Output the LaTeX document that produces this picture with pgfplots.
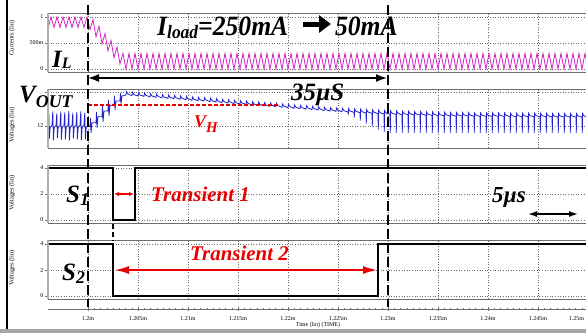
\documentclass[border=0pt]{standalone}
\usepackage{fontspec}
\setmainfont{Liberation Serif}
\usepackage{graphicx}
\usepackage{pgfplots}
\pgfplotsset{compat=1.18}
\usetikzlibrary{arrows.meta}
\definecolor{mag}{RGB}{212,34,196}
\definecolor{vblue}{RGB}{36,36,200}
\definecolor{ared}{RGB}{232,0,0}
\definecolor{gridc}{RGB}{105,105,105}
\definecolor{framec}{RGB}{110,110,110}
\definecolor{edgec}{RGB}{175,175,175}
\newcommand\fs[1]{\fontsize{#1}{#1}\selectfont}
\pgfplotsset{
  panel/.style={
    scale only axis, width=580bp, xmin=-4, xmax=54,
    anchor=south west,
    axis line style={framec, line width=0.7bp},
    xtick={0,5,...,50}, xticklabels={},
    x tick style={draw=none},
    y tick style={framec, line width=0.5bp},
    major tick length=3bp, tick align=outside,
    xmajorgrids, ymajorgrids,
    major grid style={gridc, line width=0.5bp, dash pattern=on 1bp off 1.6bp},
    yticklabel style={font=\fs{6}, inner sep=1.5bp},
    every axis y label/.style={at={(axis description cs:-0.062,0.5)}, rotate=90, anchor=center, font=\fs{6.5}},
    after end axis/.code={\draw[edgec, line width=2bp] (rel axis cs:0,0) -- (rel axis cs:0,1);},
  },
}
\begin{document}
\begin{tikzpicture}
\useasboundingbox (0,0) rectangle (586bp,-333bp);
% ---------- panel 1: inductor current ----------
\begin{axis}[panel, at={(48bp,-72bp)}, height=59bp, ymin=-0.058, ymax=1.077,
  ytick={0,0.5,1}, yticklabels={0,500m,1}, ylabel={Currents (lin)},
  every axis y label/.append style={at={(axis description cs:-0.062,0.576)}}]
\addplot[mag, line width=0.8bp] coordinates {
(-4.0,0.78)(-3.7,1.0)(-3.4,0.8)(-3.1,1.0)(-2.8,0.8)(-2.5,1.0)(-2.2,0.8)(-1.9,1.0)(-1.6,0.8)(-1.3,1.0)(-1.0,0.8)(-0.7,1.0)(-0.4,0.8)(-0.1,1.0)
(0.2,0.76)(0.5,0.95)(0.8,0.62)(1.1,0.82)(1.4,0.48)(1.7,0.68)(2.0,0.35)(2.3,0.55)(2.6,0.22)(2.9,0.42)(3.2,0.10)(3.5,0.30)(3.8,0)
(4.1,.3)(4.4,0)(4.7,.3)(5.0,0)(5.3,.3)(5.6,0)(5.9,.3)(6.2,0)(6.5,.3)(6.8,0)(7.1,.3)(7.4,0)(7.7,.3)(8.0,0)(8.3,.3)(8.6,0)(8.9,.3)(9.2,0)(9.5,.3)(9.8,0)
(10.1,.3)(10.4,0)(10.7,.3)(11.0,0)(11.3,.3)(11.6,0)(11.9,.3)(12.2,0)(12.5,.3)(12.8,0)(13.1,.3)(13.4,0)(13.7,.3)(14.0,0)(14.3,.3)(14.6,0)(14.9,.3)(15.2,0)(15.5,.3)(15.8,0)
(16.1,.3)(16.4,0)(16.7,.3)(17.0,0)(17.3,.3)(17.6,0)(17.9,.3)(18.2,0)(18.5,.3)(18.8,0)(19.1,.3)(19.4,0)(19.7,.3)(20.0,0)(20.3,.3)(20.6,0)(20.9,.3)(21.2,0)(21.5,.3)(21.8,0)
(22.1,.3)(22.4,0)(22.7,.3)(23.0,0)(23.3,.3)(23.6,0)(23.9,.3)(24.2,0)(24.5,.3)(24.8,0)(25.1,.3)(25.4,0)(25.7,.3)(26.0,0)(26.3,.3)(26.6,0)(26.9,.3)(27.2,0)(27.5,.3)(27.8,0)
(28.1,.3)(28.4,0)(28.7,.3)(29.0,0)(29.3,.3)(29.6,0)(29.9,.3)(30.2,0)(30.5,.3)(30.8,0)(31.1,.3)(31.4,0)(31.7,.3)(32.0,0)(32.3,.3)(32.6,0)(32.9,.3)(33.2,0)(33.5,.3)(33.8,0)
(34.1,.3)(34.4,0)(34.7,.3)(35.0,0)(35.3,.3)(35.6,0)(35.9,.3)(36.2,0)(36.5,.3)(36.8,0)(37.1,.3)(37.4,0)(37.7,.3)(38.0,0)(38.3,.3)(38.6,0)(38.9,.3)(39.2,0)(39.5,.3)(39.8,0)
(40.1,.3)(40.4,0)(40.7,.3)(41.0,0)(41.3,.3)(41.6,0)(41.9,.3)(42.2,0)(42.5,.3)(42.8,0)(43.1,.3)(43.4,0)(43.7,.3)(44.0,0)(44.3,.3)(44.6,0)(44.9,.3)(45.2,0)(45.5,.3)(45.8,0)
(46.1,.3)(46.4,0)(46.7,.3)(47.0,0)(47.3,.3)(47.6,0)(47.9,.3)(48.2,0)(48.5,.3)(48.8,0)(49.1,.3)(49.4,0)(49.7,.3)(50.0,0)(50.3,.3)
};
\end{axis}
% ---------- panel 2: output voltage (mV deviation from 12 V) ----------
\begin{axis}[panel, at={(48bp,-148bp)}, height=59bp, ymin=-66, ymax=111,
  ytick={0}, yticklabels={12}, extra y ticks={102}, extra y tick labels={},
  ylabel={Voltages (lin)},
  every axis y label/.append style={at={(axis description cs:-0.062,0.39)}}]
\addplot[vblue, line width=0.8bp] coordinates {
(-4.0,2)(-3.92,40)(-3.86,-38)(-3.78,-4)(-3.6,2)(-3.52,44)(-3.46,-42)(-3.38,-4)(-3.2,2)(-3.12,38)(-3.06,-36)(-2.98,-4)
(-2.8,2)(-2.72,43)(-2.66,-41)(-2.58,-4)(-2.4,2)(-2.32,41)(-2.26,-40)(-2.18,-4)(-2.0,2)(-1.92,45)(-1.86,-43)(-1.78,-4)
(-1.6,2)(-1.52,39)(-1.46,-37)(-1.38,-4)(-1.2,2)(-1.12,42)(-1.06,-40)(-0.98,-4)(-0.8,2)(-0.72,44)(-0.66,-42)(-0.58,-4)
(-0.4,2)(-0.32,40)(-0.26,-39)(-0.18,-4)
(0.0,2)(0.2,-2)(0.25,24)(0.3,-21)(0.4,10)(0.8,10)(0.85,42)(0.9,-6)(1.0,28)(1.4,28)(1.45,60)(1.5,12)(1.6,45)
(2.0,45)(2.05,78)(2.1,30)(2.2,62)(2.6,62)(2.65,90)(2.7,48)(2.8,75)(3.2,75)(3.25,99)(3.3,66)(3.4,90)
(3.8,93)(3.85,103)(4.0,96)(4.4,91)(4.45,101)(4.6,94)(5.0,90)(5.05,100)(5.2,93)(5.6,89)(5.65,99)(5.8,92)
(6.2,87)(6.25,97)(6.4,90)(6.8,86)(6.85,96)(7.0,89)(7.4,84)(7.45,94)(7.6,87)(8.0,83)(8.05,93)(8.2,86)
(8.6,82)(8.65,92)(8.8,85)(9.2,80)(9.25,90)(9.4,83)(9.8,79)(9.85,89)(10.0,82)(10.4,77)(10.45,87)(10.6,80)
(11.0,76)(11.05,86)(11.2,79)(11.6,75)(11.65,85)(11.8,78)(12.2,73)(12.25,83)(12.4,76)(12.8,72)(12.85,82)(13.0,75)
(13.4,70)(13.45,80)(13.6,73)(14.0,69)(14.05,79)(14.2,72)(14.6,67)(14.65,77)(14.8,70)(15.2,66)(15.25,76)(15.4,69)
(15.8,65)(15.85,75)(16.0,68)(16.4,63)(16.45,73)(16.6,66)(17.0,62)(17.05,72)(17.2,65)(17.6,60)(17.65,70)(17.8,63)
(18.2,59)(18.25,69)(18.4,62)(18.8,58)(18.85,68)(19.0,61)(19.4,56)(19.45,66)(19.6,59)(20.0,55)(20.05,65)(20.2,58)
(20.6,53)(20.65,63)(20.8,56)(21.2,52)(21.25,62)(21.4,55)(21.8,51)(21.85,61)(22.0,54)(22.4,49)(22.45,59)(22.6,52)
(23.0,48)(23.05,58)(23.2,51)(23.6,46)(23.65,56)(23.8,49)(24.2,45)(24.25,55)(24.4,48)(24.8,44)(24.85,54)(25.0,47)
(25.4,43)(25.45,53)(25.6,46)
(26.0,42)(26.03,34)(26.06,52)(26.2,45)(26.6,41)(26.63,25)(26.66,51)(26.8,44)(27.2,40)(27.23,16)(27.26,50)(27.4,43)
(27.8,39)(27.83,7)(27.86,49)(28.0,42)(28.4,38)(28.43,-2)(28.46,48)(28.6,41)(29.0,37)(29.03,-11)(29.06,47)(29.2,40)
(29.6,36)(29.63,-18)(29.66,46)(29.8,39)(30.2,35)(30.23,-21)(30.26,45)(30.4,38)(30.8,35)(30.83,-21)(30.86,45)(31.0,38)
(31.4,34)(31.43,-21)(31.46,44)(31.6,37)(32.0,34)(32.03,-21)(32.06,44)(32.2,37)(32.6,33)(32.63,-21)(32.66,43)(32.8,36)
(33.2,33)(33.23,-21)(33.26,43)(33.4,36)(33.8,32)(33.83,-21)(33.86,42)(34.0,35)(34.4,32)(34.43,-21)(34.46,42)(34.6,35)
(35.0,31)(35.03,-21)(35.06,41)(35.2,34)(35.6,31)(35.63,-21)(35.66,41)(35.8,34)(36.2,30)(36.23,-21)(36.26,40)(36.4,33)
(36.8,30)(36.83,-21)(36.86,40)(37.0,33)(37.4,30)(37.43,-21)(37.46,40)(37.6,33)(38.0,30)(38.03,-21)(38.06,40)(38.2,33)
(38.6,29)(38.63,-21)(38.66,39)(38.8,32)(39.2,29)(39.23,-21)(39.26,39)(39.4,32)(39.8,29)(39.83,-21)(39.86,39)(40.0,32)
(40.4,29)(40.43,-21)(40.46,39)(40.6,32)(41.0,29)(41.03,-21)(41.06,39)(41.2,32)(41.6,29)(41.63,-21)(41.66,39)(41.8,32)
(42.2,28)(42.23,-21)(42.26,38)(42.4,31)(42.8,28)(42.83,-21)(42.86,38)(43.0,31)(43.4,28)(43.43,-21)(43.46,38)(43.6,31)
(44.0,28)(44.03,-21)(44.06,38)(44.2,31)(44.6,28)(44.63,-21)(44.66,38)(44.8,31)(45.2,28)(45.23,-21)(45.26,38)(45.4,31)
(45.8,28)(45.83,-21)(45.86,38)(46.0,31)(46.4,27)(46.43,-21)(46.46,37)(46.6,30)(47.0,27)(47.03,-21)(47.06,37)(47.2,30)
(47.6,27)(47.63,-21)(47.66,37)(47.8,30)(48.2,27)(48.23,-21)(48.26,37)(48.4,30)(48.8,27)(48.83,-21)(48.86,37)(49.0,30)
(49.4,27)(49.43,-21)(49.46,37)(49.6,30)(50.0,27)(50.03,-21)(50.06,37)(50.2,30)
};
\addplot[ared, line width=1.7bp, dash pattern=on 3.5bp off 2.5bp] coordinates {(0,64)(19.2,64)};
\end{axis}
% ---------- panel 3: S1 ----------
\begin{axis}[panel, at={(48bp,-223bp)}, height=58bp, ymin=-0.23, ymax=4.23,
  ytick={0,2,4}, yticklabels={0,2,4}, ylabel={Voltages (lin)},
  every axis y label/.append style={at={(axis description cs:-0.062,0.52)}}]
\addplot[black, line width=1.6bp] coordinates {(-4,4)(2.5,4)(2.5,0)(4.7,0)(4.7,4)(54,4)};
\draw[ared, line width=1.3bp, {Latex[length=5bp,width=4.5bp]}-{Latex[length=5bp,width=4.5bp]}] (axis cs:2.6,2) -- (axis cs:4.6,2);
\draw[black, line width=1.4bp, {Latex[length=9bp,width=6bp]}-{Latex[length=9bp,width=6bp]}] (axis cs:44,0.46) -- (axis cs:49,0.46);
\end{axis}
% ---------- panel 4: S2 ----------
\begin{axis}[panel, at={(48bp,-299bp)}, height=59bp, ymin=-0.23, ymax=4.31,
  ytick={0,2,4}, yticklabels={0,2,4}, ylabel={Voltages (lin)},
  every axis y label/.append style={at={(axis description cs:-0.062,0.525)}}]
\addplot[black, line width=1.6bp] coordinates {(-4,4)(2.5,4)(2.5,0)(29.0,0)(29.0,4)(54,4)};
\draw[ared, line width=1.6bp, {Latex[length=14bp,width=8bp]}-{Latex[length=14bp,width=8bp]}] (axis cs:2.7,2) -- (axis cs:28.9,2);
\end{axis}
% ---------- time axis ----------
\begin{axis}[scale only axis, width=580bp, height=10bp, at={(48bp,-309bp)}, anchor=south west,
  xmin=-4, xmax=54, ymin=0, ymax=1,
  axis x line=bottom, axis y line=none, x axis line style={framec, line width=0.6bp, -},
  xtick={0,5,...,50},
  xticklabels={1.2m,1.205m,1.21m,1.215m,1.22m,1.225m,1.23m,1.235m,1.24m,1.245m,{\raisebox{-3bp}{\makebox[0pt][r]{1.25m\kern4bp}}}},
  minor x tick num=7, tick align=center, major tick length=4bp, minor tick length=2bp,
  x tick style={framec, line width=0.5bp},
  xticklabel style={font=\fs{6}, yshift=-2bp},
  xlabel={Time (lin) (TIME)},
  xlabel style={font=\fs{6}, at={(axis description cs:0.4655,0)}, anchor=center, yshift=-16bp}]
\addplot[draw=none] coordinates {(0,0)};
\end{axis}
% ---------- markers and frame ----------
\draw[black, line width=2.2bp, dash pattern=on 10bp off 4bp] (88bp,-5bp) -- (88bp,-307bp);
\draw[black, line width=2.2bp, dash pattern=on 10bp off 4bp] (388bp,-5bp) -- (388bp,-307bp);
\draw[black, line width=2bp, dash pattern=on 5bp off 3bp] (113bp,-224bp) -- (113bp,-241bp);
\draw[black, line width=1.6bp, {Latex[length=11bp,width=8bp]}-{Latex[length=11bp,width=8bp]}] (88bp,-78bp) -- (387bp,-78bp);
\draw[black, line width=2bp] (6.5bp,0) -- (6.5bp,-330bp);
\fill[black!35] (0,-329bp) rectangle (586bp,-333bp);
% ---------- labels ----------
\node[anchor=base west, inner sep=0pt] at (157bp,-35bp) {\scalebox{0.92}[1]{\fs{28}\bfseries\itshape I\raisebox{-3bp}{\fs{19}load}=250mA}};
\draw[black, line width=5bp, -{Triangle[length=12bp,width=17bp]}] (303bp,-24bp) -- (331bp,-24bp);
\node[anchor=base east, inner sep=0pt] at (398bp,-35bp) {\scalebox{0.92}[1]{\fs{28}\bfseries\itshape 50mA}};
\node[anchor=base west, inner sep=0pt] at (52bp,-67bp) {\fs{25}\bfseries\itshape I\raisebox{-1.5bp}{\fs{16}L}};
\node[anchor=base west, inner sep=0pt] at (19bp,-102bp) {\fs{25}\bfseries\itshape V\raisebox{-5bp}{\fs{18}OUT}};
\node[anchor=base west, inner sep=0pt] at (291bp,-100bp) {\fs{25}\bfseries\itshape 35µS};
\node[anchor=base west, inner sep=0pt, text=ared] at (194bp,-127bp) {\fs{18}\bfseries\itshape V\raisebox{-5bp}{\fs{15}H}};
\node[anchor=base west, inner sep=0pt] at (66bp,-202bp) {\fs{25}\bfseries\itshape S\raisebox{-3bp}{\fs{18}1}};
\node[anchor=base west, inner sep=0pt] at (62bp,-280bp) {\fs{25}\bfseries\itshape S\raisebox{-3bp}{\fs{18}2}};
\node[anchor=base west, inner sep=0pt, text=ared] at (151bp,-201bp) {\fs{21}\bfseries\itshape Transient 1};
\node[anchor=base west, inner sep=0pt, text=ared] at (190bp,-260bp) {\fs{21}\bfseries\itshape Transient 2};
\node[anchor=base west, inner sep=0pt] at (492bp,-202bp) {\fs{23}\bfseries\itshape 5µs};
\end{tikzpicture}
\end{document}
